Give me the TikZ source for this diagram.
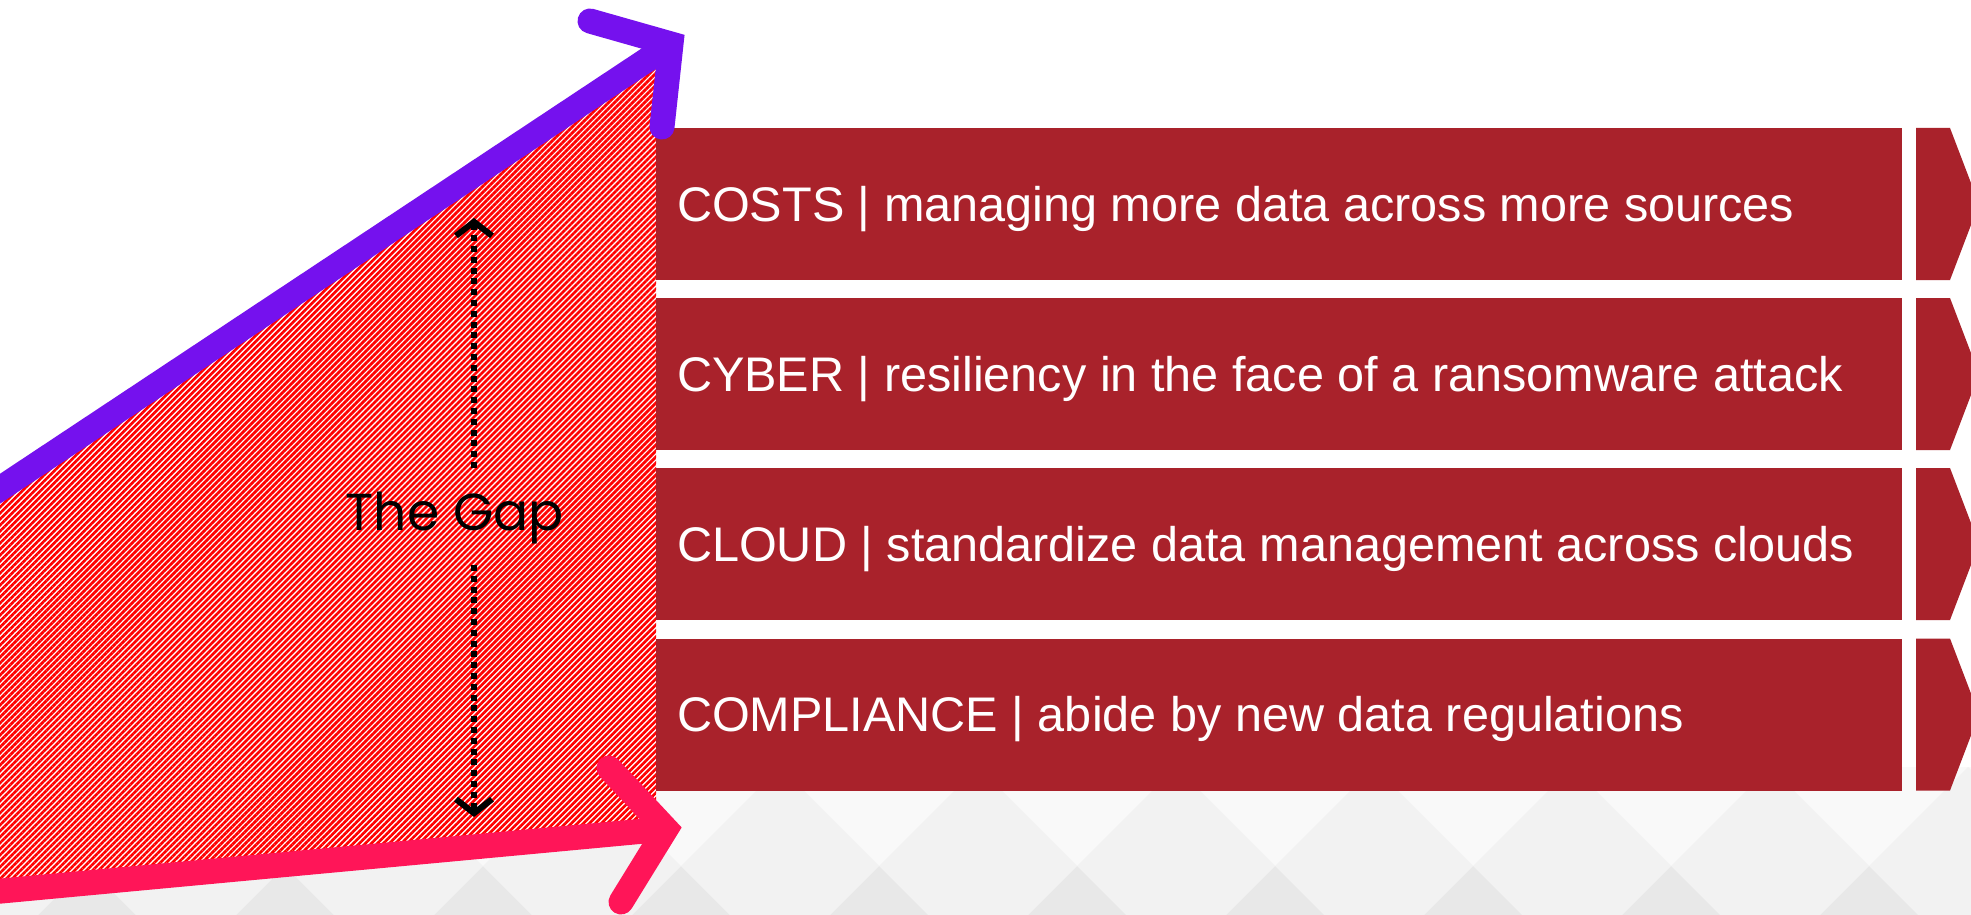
\documentclass[tikz,border=0pt]{standalone}
\usepackage{fontspec}
\setmainfont{Liberation Sans}
\newfontfamily\gapfont{Poppins}
\usetikzlibrary{patterns.meta,arrows.meta,calc}
\definecolor{boxred}{RGB}{169,34,43}
\definecolor{purpleA}{RGB}{117,17,238}
\definecolor{pinkA}{RGB}{255,21,88}
\definecolor{bgA}{RGB}{249,249,249}
\definecolor{bgM}{RGB}{242,242,242}
\definecolor{bgB}{RGB}{232,232,232}
\definecolor{hatchred}{RGB}{255,0,0}
\tikzset{
  rowbox/.style={fill=boxred, draw=none, minimum width=623pt, minimum height=76pt, inner sep=0pt},
  rowtext/.style={text=white, font=\fontsize{24.3}{28}\selectfont, inner sep=0pt, anchor=base west},
  chev/.style={fill=boxred, draw=none},
  bigarrow/.style={line width=12.5pt},
  gaptext/.style={font=\gapfont\fontsize{26}{30}\selectfont, text=black, inner sep=0pt, anchor=base},
  gaparrow/.style={line width=3pt, dash pattern=on 3pt off 2.4pt, -{Straight Barb[length=7pt,width=18pt]}},
}
\begin{document}
\begin{tikzpicture}[x=0.5pt,y=-0.5pt]
\useasboundingbox (0,0) rectangle (1971,915);
\begin{scope}
\clip (0,0) rectangle (1971,915);
\fill[white] (0,0) rectangle (1971,915);
% background triangles
\fill[bgA] (0,767) rectangle (1971,915);
\fill[bgB] (0,866) rectangle (1971,915);
\foreach \cx in {-12,186,...,1968} {
  \fill[bgM] (\cx,767) -- ({\cx+99},866) -- (\cx,965) -- ({\cx-99},866) -- cycle;
}
% hatched gap region
\fill[white] (0,498) -- (656,55) -- (656,830) -- (0,893) -- cycle;
\fill[pattern={Lines[angle=45,distance=2.12pt,line width=1.35pt]}, pattern color=hatchred]
  (0,498) -- (656,55) -- (656,830) -- (0,893) -- cycle;
% rows
\node[rowbox] (costs) at (1279,204) {};
\node[rowbox] (cyber) at (1279,374) {};
\node[rowbox] (cloud) at (1279,544) {};
\node[rowbox] (compl) at (1279,714.5) {};
\node[rowtext] (costsT) at ($(costs.west)+(21,17.4)$) {COSTS | managing more data across more sources};
\node[rowtext] (cyberT) at ($(cyber.west)+(21,17.4)$) {CYBER | resiliency in the face of a ransomware attack};
\node[rowtext] (cloudT) at ($(cloud.west)+(21,17.4)$) {CLOUD | standardize data management across clouds};
\node[rowtext] (complT) at ($(compl.west)+(21,17.4)$) {COMPLIANCE | abide by new data regulations};
% chevron pieces
\foreach \t in {128,298,468,638.5} {
  \fill[chev] (1916,\t) -- (1950,\t) -- (1979,{\t+76}) -- (1950,{\t+152}) -- (1916,{\t+152}) -- cycle;
}
% gap label and dotted arrows
\node[gaptext] (gap) at (455,530) {The Gap};
\coordinate (gUpS) at (474,468);
\coordinate (gUpE) at (474,218);
\coordinate (gDnS) at (474,565);
\coordinate (gDnE) at (474,817);
\draw[gaparrow] (gUpS) -- (gUpE);
\draw[gaparrow] (gDnS) -- (gDnE);
% purple arrow
\coordinate (pS) at (-20,502);
\coordinate (pV) at (671,44);
\coordinate (pA1) at (590,21);
\coordinate (pA2) at (662,127);
\draw[bigarrow, purpleA, line cap=butt] (pS) -- (pV);
\draw[bigarrow, purpleA, line cap=round, line join=miter] (pA1) -- (pV) -- (pA2);
% pink arrow
\coordinate (kS) at (-20,893);
\coordinate (kV) at (666,829);
\coordinate (kA1) at (609,768);
\coordinate (kA2) at (621,902);
\draw[bigarrow, pinkA, line cap=butt] (kS) -- (kV);
\draw[bigarrow, pinkA, line cap=round, line join=miter] (kA1) -- (kV) -- (kA2);
\end{scope}
\end{tikzpicture}
\end{document}
